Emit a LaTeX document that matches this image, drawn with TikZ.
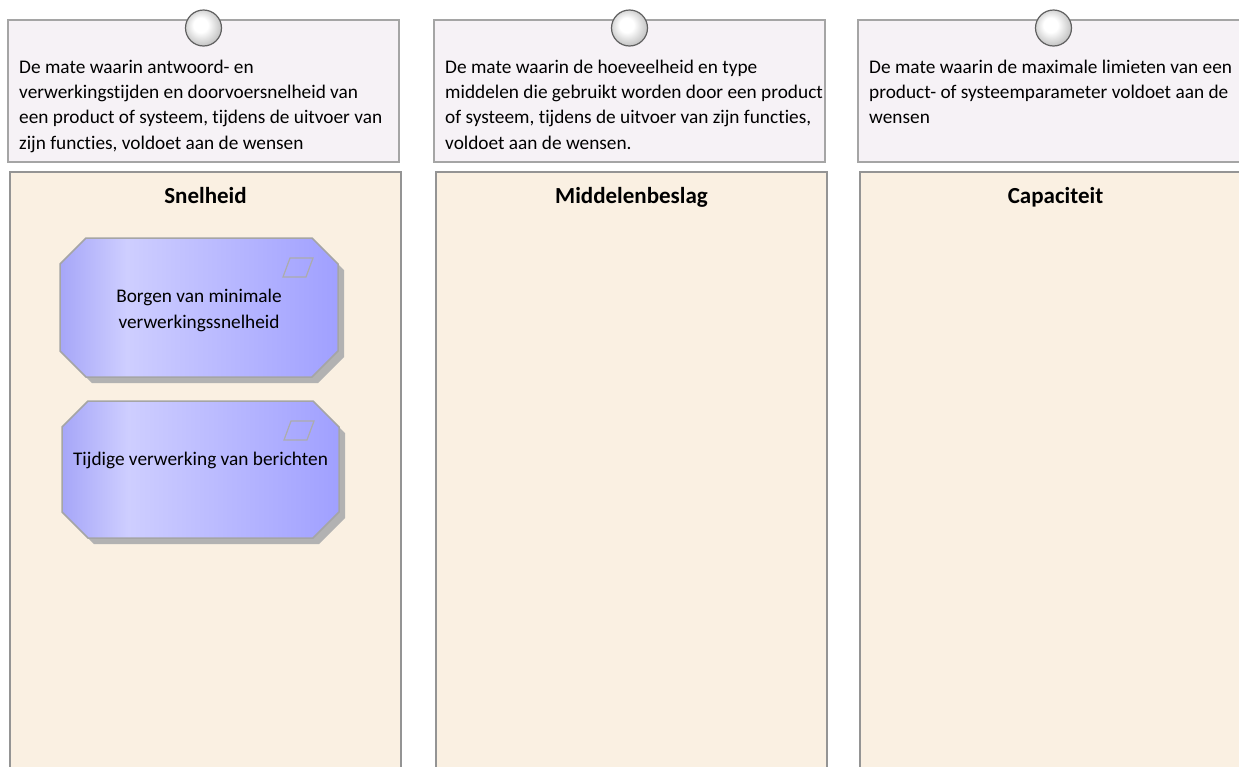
\documentclass[tikz,border=0pt]{standalone}
\usepackage{fontspec}
\setmainfont{Carlito}[Ligatures=NoCommon]
\usetikzlibrary{calc}
\usepackage{xcolor}

\definecolor{notefill}{RGB}{246,242,246}
\definecolor{bndfill}{RGB}{250,240,226}
\definecolor{edgegray}{RGB}{165,165,165}
\definecolor{reqA}{RGB}{166,166,248}
\definecolor{reqB}{RGB}{206,206,255}
\definecolor{reqC}{RGB}{160,160,255}
\pgfdeclarehorizontalshading{reqshade}{100bp}{color(0bp)=(reqA); color(25bp)=(reqA); color(37bp)=(reqB); color(75bp)=(reqC); color(100bp)=(reqC)}
\pgfdeclareradialshading{pinshade}{\pgfpoint{-5bp}{5bp}}{color(0bp)=(white); color(10bp)=(white); color(21bp)=(gray!30); color(30bp)=(gray!55); color(50bp)=(gray!55)}
\newcommand{\reqpath}[4]{(#1+26,#2) -- (#3-26,#2) -- (#3,#2+26) -- (#3,#4-26) -- (#3-26,#4) -- (#1+26,#4) -- (#1,#4-26) -- (#1,#2+26) -- cycle}

\begin{document}
\begin{tikzpicture}[x=1pt, y=-1pt,
 note/.style={fill=notefill, draw=edgegray, line width=1.5pt},
 bnd/.style={fill=bndfill, draw=edgegray!90!black, line width=2pt},
 pin/.style={shading=pinshade, draw=gray!75!black, line width=1.2pt},
 notetext/.style={anchor=north west, align=left, inner sep=0pt, font=\fontsize{19.3}{25.3}\selectfont},
 title/.style={anchor=north, inner sep=0pt, font=\fontsize{23}{27}\selectfont\bfseries},
 req/.style={shading=reqshade, draw=edgegray, line width=1.5pt},
 reqshadow/.style={fill=gray!60},
 reqicon/.style={draw=gray!65, line width=1.2pt},
 reqtext/.style={anchor=north, align=center, inner sep=0pt, font=\fontsize{19.3}{26}\selectfont}]
\useasboundingbox (0,0) rectangle (1239,766);
\fill[white] (0,0) rectangle (1239,766);
\foreach \nx/\nm/\ttl/\txt in {
 8/snel/Snelheid/{De mate waarin antwoord- en\\verwerkingstijden en doorvoersnelheid van\\een product of systeem, tijdens de uitvoer van\\zijn functies, voldoet aan de wensen},
 434/midd/Middelenbeslag/{De mate waarin de hoeveelheid en type\\middelen die gebruikt worden door een product\\of systeem, tijdens de uitvoer van zijn functies,\\voldoet aan de wensen.},
 858/capa/Capaciteit/{De mate waarin de maximale limieten van een\\product- of systeemparameter voldoet aan de\\wensen}} {
 \draw[note] (\nx,20) rectangle ++(391,142);
 \node[notetext] (\nm-txt) at (\nx+11,59.5) {\txt};
 \draw[pin] (\nx+195.5,28) circle (18);
 \draw[bnd] (\nx+2,172) rectangle ++(391,620);
 \node[title] (\nm) at (\nx+197.5,187) {\ttl};
}
% requirements in Snelheid
\foreach \ra/\rb/\rc/\rd/\rm/\rtxt in {
 60/238/338/377/borg/{Borgen van minimale\\verwerkingssnelheid},
 62/401/339/538/tijd/{Tijdige verwerking van berichten}} {
 \fill[reqshadow] \reqpath{\ra+6}{\rb+6}{\rc+6}{\rd+6};
 \draw[req] \reqpath{\ra}{\rb}{\rc}{\rd};
 \draw[reqicon] (\rc-55,\rb+39) --++(7,-19) --++(23,0) --++(-7,19) -- cycle;
 \node[reqtext] (\rm) at ({(\ra+\rc)/2},\rb+51) {\rtxt};
}
\end{tikzpicture}
\end{document}
